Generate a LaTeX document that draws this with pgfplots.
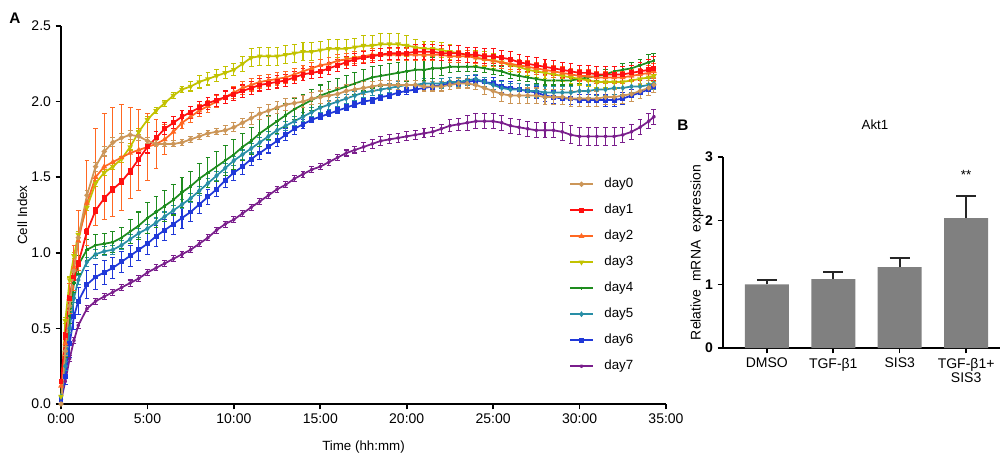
\documentclass[border=0pt]{standalone}
\usepackage{pgfplots}
\pgfplotsset{compat=1.18}
\usepackage{pgfplotstable}
\usepackage{fontspec}
\setmainfont{Liberation Sans}

\definecolor{c0}{RGB}{204,150,88}
\definecolor{c1}{RGB}{255,16,16}
\definecolor{c2}{RGB}{255,104,34}
\definecolor{c3}{RGB}{194,194,0}
\definecolor{c4}{RGB}{30,140,30}
\definecolor{c5}{RGB}{40,142,166}
\definecolor{c6}{RGB}{32,56,216}
\definecolor{c7}{RGB}{122,30,140}
\definecolor{barg}{RGB}{128,128,128}

\pgfplotstableread{
t v e
0 0.00 0.01
0.25 0.35 0.03
0.5 0.65 0.03
0.75 0.88 0.03
1 1.10 0.03
1.5 1.38 0.03
2 1.57 0.03
2.5 1.67 0.03
3 1.73 0.03
3.5 1.76 0.03
4 1.78 0.03
4.5 1.77 0.03
5 1.74 0.02
5.5 1.72 0.02
6 1.72 0.02
6.5 1.72 0.02
7 1.73 0.02
7.5 1.75 0.02
8 1.77 0.02
8.5 1.79 0.02
9 1.80 0.02
9.5 1.81 0.03
10 1.83 0.03
10.5 1.86 0.03
11 1.89 0.04
11.5 1.92 0.04
12 1.94 0.04
12.5 1.96 0.04
13 1.98 0.04
13.5 1.99 0.04
14 2.00 0.04
14.5 2.02 0.04
15 2.03 0.04
15.5 2.04 0.04
16 2.05 0.04
16.5 2.07 0.04
17 2.08 0.04
17.5 2.09 0.04
18 2.10 0.03
18.5 2.11 0.03
19 2.11 0.03
19.5 2.11 0.03
20 2.11 0.03
20.5 2.11 0.03
21 2.10 0.03
21.5 2.10 0.03
22 2.10 0.03
22.5 2.11 0.03
23 2.12 0.03
23.5 2.12 0.03
24 2.11 0.03
24.5 2.09 0.04
25 2.07 0.04
25.5 2.05 0.05
26 2.04 0.05
26.5 2.04 0.05
27 2.04 0.05
27.5 2.04 0.05
28 2.03 0.05
28.5 2.03 0.05
29 2.03 0.05
29.5 2.02 0.05
30 2.02 0.05
30.5 2.02 0.05
31 2.02 0.05
31.5 2.03 0.05
32 2.03 0.05
32.5 2.04 0.05
33 2.05 0.05
33.5 2.07 0.05
34 2.09 0.05
34.3 2.11 0.05
}\dayzero

\pgfplotstableread{
t v e
0 0.15 0.02
0.25 0.45 0.02
0.5 0.70 0.02
0.75 0.84 0.02
1 0.93 0.02
1.5 1.14 0.02
2 1.28 0.02
2.5 1.36 0.02
3 1.42 0.02
3.5 1.47 0.02
4 1.54 0.02
4.5 1.62 0.04
5 1.70 0.04
5.5 1.76 0.04
6 1.82 0.04
6.5 1.86 0.04
7 1.90 0.04
7.5 1.93 0.04
8 1.96 0.04
8.5 1.99 0.04
9 2.01 0.04
9.5 2.03 0.04
10 2.05 0.04
10.5 2.07 0.04
11 2.09 0.04
11.5 2.11 0.04
12 2.12 0.04
12.5 2.13 0.04
13 2.14 0.04
13.5 2.16 0.04
14 2.18 0.04
14.5 2.19 0.04
15 2.20 0.04
15.5 2.22 0.04
16 2.24 0.04
16.5 2.26 0.04
17 2.28 0.04
17.5 2.29 0.04
18 2.30 0.04
18.5 2.31 0.04
19 2.32 0.04
19.5 2.32 0.04
20 2.32 0.04
20.5 2.33 0.05
21 2.33 0.05
21.5 2.33 0.05
22 2.32 0.05
22.5 2.32 0.05
23 2.32 0.05
23.5 2.31 0.05
24 2.31 0.05
24.5 2.30 0.05
25 2.30 0.05
25.5 2.29 0.05
26 2.28 0.05
26.5 2.26 0.05
27 2.25 0.05
27.5 2.24 0.05
28 2.23 0.05
28.5 2.22 0.05
29 2.21 0.05
29.5 2.20 0.05
30 2.19 0.05
30.5 2.19 0.05
31 2.18 0.05
31.5 2.18 0.05
32 2.18 0.05
32.5 2.18 0.05
33 2.19 0.05
33.5 2.20 0.06
34 2.21 0.07
34.3 2.22 0.08
}\dayone

\pgfplotstableread{
t v e
0 0.12 0.02
0.25 0.40 0.05
0.5 0.70 0.10
0.75 0.90 0.15
1 1.08 0.20
1.5 1.33 0.28
2 1.50 0.32
2.5 1.57 0.35
3 1.60 0.36
3.5 1.63 0.35
4 1.66 0.30
4.5 1.68 0.27
5 1.70 0.22
5.5 1.72 0.16
6 1.75 0.10
6.5 1.80 0.06
7 1.86 0.04
7.5 1.90 0.04
8 1.94 0.04
8.5 1.97 0.04
9 2.00 0.04
9.5 2.03 0.04
10 2.06 0.04
10.5 2.09 0.04
11 2.11 0.04
11.5 2.13 0.04
12 2.14 0.04
12.5 2.15 0.04
13 2.16 0.04
13.5 2.18 0.04
14 2.20 0.04
14.5 2.22 0.04
15 2.24 0.04
15.5 2.25 0.04
16 2.27 0.04
16.5 2.28 0.04
17 2.29 0.04
17.5 2.30 0.04
18 2.31 0.04
18.5 2.31 0.04
19 2.31 0.04
19.5 2.31 0.04
20 2.31 0.04
20.5 2.31 0.04
21 2.31 0.04
21.5 2.31 0.04
22 2.31 0.04
22.5 2.30 0.04
23 2.30 0.04
23.5 2.30 0.04
24 2.29 0.04
24.5 2.28 0.04
25 2.27 0.04
25.5 2.26 0.04
26 2.25 0.04
26.5 2.24 0.04
27 2.23 0.04
27.5 2.22 0.04
28 2.21 0.04
28.5 2.20 0.04
29 2.19 0.04
29.5 2.18 0.04
30 2.17 0.04
30.5 2.17 0.04
31 2.16 0.04
31.5 2.16 0.04
32 2.16 0.04
32.5 2.16 0.04
33 2.17 0.04
33.5 2.18 0.04
34 2.19 0.05
34.3 2.20 0.05
}\daytwo

\pgfplotstableread{
t v e
0 0.05 0.02
0.25 0.55 0.02
0.5 0.82 0.02
0.75 0.98 0.02
1 1.12 0.02
1.5 1.30 0.02
2 1.46 0.02
2.5 1.53 0.02
3 1.57 0.02
3.5 1.62 0.02
4 1.70 0.02
4.5 1.80 0.02
5 1.88 0.02
5.5 1.94 0.02
6 1.99 0.02
6.5 2.04 0.02
7 2.08 0.02
7.5 2.10 0.03
8 2.13 0.04
8.5 2.15 0.04
9 2.17 0.04
9.5 2.19 0.04
10 2.21 0.04
10.5 2.25 0.05
11 2.29 0.06
11.5 2.30 0.06
12 2.30 0.06
12.5 2.30 0.06
13 2.31 0.06
13.5 2.32 0.06
14 2.33 0.06
14.5 2.33 0.06
15 2.34 0.06
15.5 2.35 0.06
16 2.35 0.06
16.5 2.35 0.06
17 2.36 0.06
17.5 2.37 0.07
18 2.37 0.07
18.5 2.38 0.07
19 2.38 0.07
19.5 2.38 0.07
20 2.37 0.07
20.5 2.36 0.05
21 2.35 0.05
21.5 2.35 0.05
22 2.34 0.05
22.5 2.33 0.05
23 2.32 0.05
23.5 2.31 0.05
24 2.29 0.05
24.5 2.28 0.05
25 2.27 0.05
25.5 2.26 0.04
26 2.24 0.04
26.5 2.23 0.04
27 2.21 0.04
27.5 2.20 0.04
28 2.19 0.04
28.5 2.18 0.04
29 2.17 0.04
29.5 2.16 0.04
30 2.15 0.04
30.5 2.14 0.04
31 2.13 0.04
31.5 2.13 0.04
32 2.13 0.04
32.5 2.13 0.04
33 2.14 0.04
33.5 2.15 0.04
34 2.16 0.04
34.3 2.17 0.04
}\daythree

\pgfplotstableread{
t v e
0 0.05 0.02
0.25 0.35 0.04
0.5 0.58 0.05
0.75 0.80 0.06
1 0.92 0.06
1.5 1.02 0.07
2 1.05 0.07
2.5 1.06 0.07
3 1.07 0.07
3.5 1.10 0.07
4 1.14 0.08
4.5 1.18 0.09
5 1.23 0.10
5.5 1.27 0.10
6 1.31 0.10
6.5 1.35 0.10
7 1.40 0.10
7.5 1.44 0.10
8 1.49 0.10
8.5 1.53 0.10
9 1.57 0.10
9.5 1.61 0.10
10 1.65 0.10
10.5 1.70 0.09
11 1.74 0.09
11.5 1.79 0.09
12 1.83 0.08
12.5 1.87 0.08
13 1.91 0.08
13.5 1.95 0.07
14 1.98 0.07
14.5 2.01 0.07
15 2.04 0.07
15.5 2.06 0.07
16 2.08 0.07
16.5 2.10 0.07
17 2.12 0.07
17.5 2.14 0.07
18 2.16 0.07
18.5 2.17 0.07
19 2.18 0.07
19.5 2.19 0.07
20 2.20 0.07
20.5 2.21 0.07
21 2.21 0.07
21.5 2.22 0.07
22 2.22 0.05
22.5 2.23 0.04
23 2.23 0.03
23.5 2.23 0.03
24 2.23 0.03
24.5 2.22 0.03
25 2.21 0.03
25.5 2.20 0.03
26 2.18 0.03
26.5 2.17 0.03
27 2.16 0.03
27.5 2.15 0.03
28 2.14 0.03
28.5 2.14 0.03
29 2.14 0.03
29.5 2.14 0.03
30 2.15 0.03
30.5 2.16 0.03
31 2.17 0.03
31.5 2.18 0.03
32 2.20 0.03
32.5 2.21 0.04
33 2.22 0.04
33.5 2.24 0.04
34 2.26 0.05
34.3 2.27 0.05
}\dayfour

\pgfplotstableread{
t v e
0 0.05 0.02
0.25 0.25 0.03
0.5 0.50 0.03
0.75 0.70 0.03
1 0.82 0.03
1.5 0.94 0.03
2 0.99 0.03
2.5 1.01 0.03
3 1.02 0.03
3.5 1.05 0.03
4 1.09 0.03
4.5 1.13 0.03
5 1.16 0.03
5.5 1.20 0.03
6 1.24 0.03
6.5 1.28 0.03
7 1.32 0.03
7.5 1.36 0.03
8 1.41 0.03
8.5 1.46 0.03
9 1.51 0.03
9.5 1.56 0.03
10 1.61 0.03
10.5 1.65 0.03
11 1.69 0.03
11.5 1.73 0.03
12 1.77 0.03
12.5 1.81 0.03
13 1.84 0.03
13.5 1.87 0.03
14 1.90 0.03
14.5 1.93 0.03
15 1.96 0.03
15.5 1.98 0.03
16 2.00 0.03
16.5 2.02 0.03
17 2.04 0.03
17.5 2.06 0.03
18 2.07 0.03
18.5 2.08 0.03
19 2.09 0.03
19.5 2.10 0.03
20 2.11 0.03
20.5 2.11 0.03
21 2.12 0.03
21.5 2.12 0.03
22 2.12 0.03
22.5 2.13 0.03
23 2.13 0.03
23.5 2.14 0.03
24 2.15 0.03
24.5 2.13 0.03
25 2.11 0.03
25.5 2.09 0.04
26 2.08 0.04
26.5 2.08 0.04
27 2.07 0.04
27.5 2.07 0.04
28 2.06 0.04
28.5 2.06 0.04
29 2.06 0.04
29.5 2.06 0.04
30 2.07 0.04
30.5 2.07 0.04
31 2.08 0.04
31.5 2.08 0.04
32 2.09 0.04
32.5 2.09 0.04
33 2.10 0.04
33.5 2.10 0.04
34 2.11 0.04
34.3 2.12 0.04
}\dayfive

\pgfplotstableread{
t v e
0 0.03 0.02
0.25 0.18 0.05
0.5 0.40 0.09
0.75 0.58 0.09
1 0.68 0.09
1.5 0.79 0.09
2 0.84 0.08
2.5 0.87 0.08
3 0.90 0.07
3.5 0.94 0.07
4 0.98 0.07
4.5 1.02 0.07
5 1.06 0.07
5.5 1.11 0.07
6 1.15 0.07
6.5 1.19 0.07
7 1.23 0.07
7.5 1.27 0.06
8 1.32 0.06
8.5 1.37 0.05
9 1.42 0.05
9.5 1.48 0.05
10 1.53 0.05
10.5 1.57 0.05
11 1.62 0.04
11.5 1.66 0.04
12 1.70 0.04
12.5 1.74 0.04
13 1.78 0.04
13.5 1.82 0.04
14 1.85 0.03
14.5 1.88 0.02
15 1.90 0.02
15.5 1.92 0.02
16 1.94 0.02
16.5 1.96 0.02
17 1.98 0.02
17.5 2.00 0.02
18 2.01 0.02
18.5 2.03 0.02
19 2.04 0.02
19.5 2.06 0.02
20 2.07 0.02
20.5 2.08 0.02
21 2.09 0.02
21.5 2.10 0.02
22 2.11 0.02
22.5 2.12 0.02
23 2.12 0.02
23.5 2.13 0.02
24 2.14 0.03
24.5 2.13 0.03
25 2.12 0.04
25.5 2.10 0.04
26 2.09 0.04
26.5 2.08 0.04
27 2.07 0.04
27.5 2.06 0.04
28 2.04 0.04
28.5 2.03 0.04
29 2.02 0.04
29.5 2.02 0.04
30 2.01 0.04
30.5 2.01 0.04
31 2.01 0.04
31.5 2.01 0.04
32 2.01 0.04
32.5 2.02 0.04
33 2.04 0.04
33.5 2.06 0.04
34 2.08 0.04
34.3 2.10 0.04
}\daysix

\pgfplotstableread{
t v e
0 0.02 0.01
0.25 0.15 0.02
0.5 0.30 0.02
0.75 0.42 0.02
1 0.52 0.02
1.5 0.63 0.02
2 0.68 0.02
2.5 0.71 0.02
3 0.74 0.02
3.5 0.77 0.02
4 0.80 0.02
4.5 0.83 0.02
5 0.87 0.02
5.5 0.90 0.02
6 0.93 0.02
6.5 0.96 0.02
7 0.99 0.02
7.5 1.02 0.02
8 1.06 0.02
8.5 1.10 0.02
9 1.15 0.02
9.5 1.19 0.02
10 1.22 0.02
10.5 1.26 0.02
11 1.30 0.02
11.5 1.34 0.02
12 1.38 0.02
12.5 1.42 0.02
13 1.45 0.02
13.5 1.49 0.02
14 1.52 0.02
14.5 1.55 0.02
15 1.57 0.02
15.5 1.60 0.02
16 1.63 0.02
16.5 1.66 0.02
17 1.68 0.02
17.5 1.70 0.03
18 1.72 0.03
18.5 1.74 0.03
19 1.75 0.03
19.5 1.76 0.03
20 1.77 0.03
20.5 1.78 0.03
21 1.79 0.03
21.5 1.80 0.03
22 1.82 0.03
22.5 1.84 0.04
23 1.85 0.04
23.5 1.86 0.05
24 1.87 0.05
24.5 1.87 0.05
25 1.87 0.05
25.5 1.86 0.05
26 1.84 0.05
26.5 1.83 0.05
27 1.82 0.05
27.5 1.81 0.05
28 1.81 0.05
28.5 1.81 0.05
29 1.80 0.06
29.5 1.78 0.06
30 1.77 0.06
30.5 1.77 0.06
31 1.77 0.06
31.5 1.77 0.06
32 1.77 0.06
32.5 1.78 0.05
33 1.80 0.05
33.5 1.83 0.05
34 1.87 0.05
34.3 1.90 0.05
}\dayseven

\pgfplotstableread{
x v e
0 1.00 0.07
1 1.08 0.12
2 1.27 0.15
3 2.04 0.35
}\akt

\pgfplotsset{
  ebA/.style={
    error bars/y dir=both, error bars/y explicit,
    error bars/error bar style={line width=0.8pt},
    error bars/error mark options={rotate=90, line width=0.8pt, mark size=1.8pt}},
}

\begin{document}
\begin{tikzpicture}
\useasboundingbox (-45.75pt,-37.5pt) rectangle (705pt,303pt);

\begin{axis}[
  at={(0pt,0pt)}, anchor=south west,
  scale only axis, width=453.75pt, height=283.5pt,
  xmin=0, xmax=35, ymin=0, ymax=2.5,
  axis x line*=bottom, axis y line*=left,
  axis line style={-, line width=1.5pt, black},
  xtick={0,5,...,35},
  xticklabels={0:00,5:00,10:00,15:00,20:00,25:00,30:00,35:00},
  ytick={0,0.5,1,1.5,2,2.5},
  yticklabel style={/pgf/number format/.cd, fixed, fixed zerofill, precision=1, assume math mode=true},
  tick align=outside, major tick length=4pt,
  tick style={black, line width=1.2pt},
  tick label style={font=\fontsize{10.5}{12}\selectfont},
  xlabel={Time (hh:mm)}, ylabel={Cell Index},
  label style={font=\fontsize{10.5}{12}\selectfont},
  every axis x label/.style={at={(axis description cs:0.5,0)}, yshift=-32pt, anchor=center},
  every axis y label/.style={at={(axis description cs:0,0.5)}, xshift=-29pt, rotate=90, anchor=center},
  legend style={at={(rel axis cs:0.833,0.606)}, anchor=north west, draw=none, fill=none,
    font=\fontsize{10}{12}\selectfont, row sep=10pt,
    nodes={inner sep=0pt, text height=7.5pt, text depth=2pt},
    /tikz/every odd column/.append style={column sep=8pt}},
  legend cell align=left,
  legend image post style={line width=1.3pt},
  reverse legend,
  every axis plot/.append style={line width=1.3pt, mark size=1.2pt, mark options={solid}},
]
\addplot[c7, mark=star, ebA] table[x=t, y=v, y error=e] {\dayseven};
\addlegendentry{day7}
\addplot[c6, mark=square*, ebA] table[x=t, y=v, y error=e] {\daysix};
\addlegendentry{day6}
\addplot[c5, mark=diamond*, ebA] table[x=t, y=v, y error=e] {\dayfive};
\addlegendentry{day5}
\addplot[c4, mark=+, ebA] table[x=t, y=v, y error=e] {\dayfour};
\addlegendentry{day4}
\addplot[c3, mark=triangle*, mark options={rotate=180}, ebA] table[x=t, y=v, y error=e] {\daythree};
\addlegendentry{day3}
\addplot[c2, mark=triangle*, ebA] table[x=t, y=v, y error=e] {\daytwo};
\addlegendentry{day2}
\addplot[c1, mark=square*, ebA] table[x=t, y=v, y error=e] {\dayone};
\addlegendentry{day1}
\addplot[c0, mark=*, ebA] table[x=t, y=v, y error=e] {\dayzero};
\addlegendentry{day0}
\end{axis}

\begin{axis}[
  at={(496.5pt,42pt)}, anchor=south west,
  scale only axis, width=207.75pt, height=143.25pt,
  xmin=-0.66, xmax=3.51, ymin=0, ymax=3,
  axis x line*=bottom, axis y line*=left,
  axis line style={-, line width=1.5pt, black},
  xtick={0,1,2,3},
  xticklabels={DMSO, TGF-β1, SIS3, {TGF-β1+\\SIS3}},
  xticklabel style={align=center, font=\fontsize{10.5}{11}\selectfont},
  ytick={0,1,2,3},
  yticklabel style={font=\bfseries\fontsize{10.5}{12}\selectfont, /pgf/number format/assume math mode=true},
  tick align=outside, major tick length=4pt,
  tick style={black, line width=1.2pt},
  ylabel={Relative\ \ mRNA\ \ expression},
  every axis y label/.style={at={(axis description cs:0,0.5)}, xshift=-19.5pt, rotate=90, anchor=center, font=\fontsize{10.5}{12}\selectfont},
  clip=false,
]
\addplot[ybar, bar width=33pt, fill=barg, draw=none,
  error bars/y dir=plus, error bars/y explicit,
  error bars/error bar style={line width=1.4pt, black!85},
  error bars/error mark options={rotate=90, line width=1.4pt, black!85, mark size=7.5pt}]
  table[x=x, y=v, y error=e] {\akt};
\node[font=\fontsize{10}{12}\selectfont] at (axis cs:3,2.72) {**};
\end{axis}

\node[font=\bfseries\fontsize{11.5}{12}\selectfont] at (-34.5pt,289.5pt) {A};
\node[font=\bfseries\fontsize{11.5}{12}\selectfont] at (466.5pt,209.25pt) {B};
\node[font=\fontsize{10}{12}\selectfont] at (610.5pt,209.25pt) {Akt1};
\end{tikzpicture}
\end{document}
